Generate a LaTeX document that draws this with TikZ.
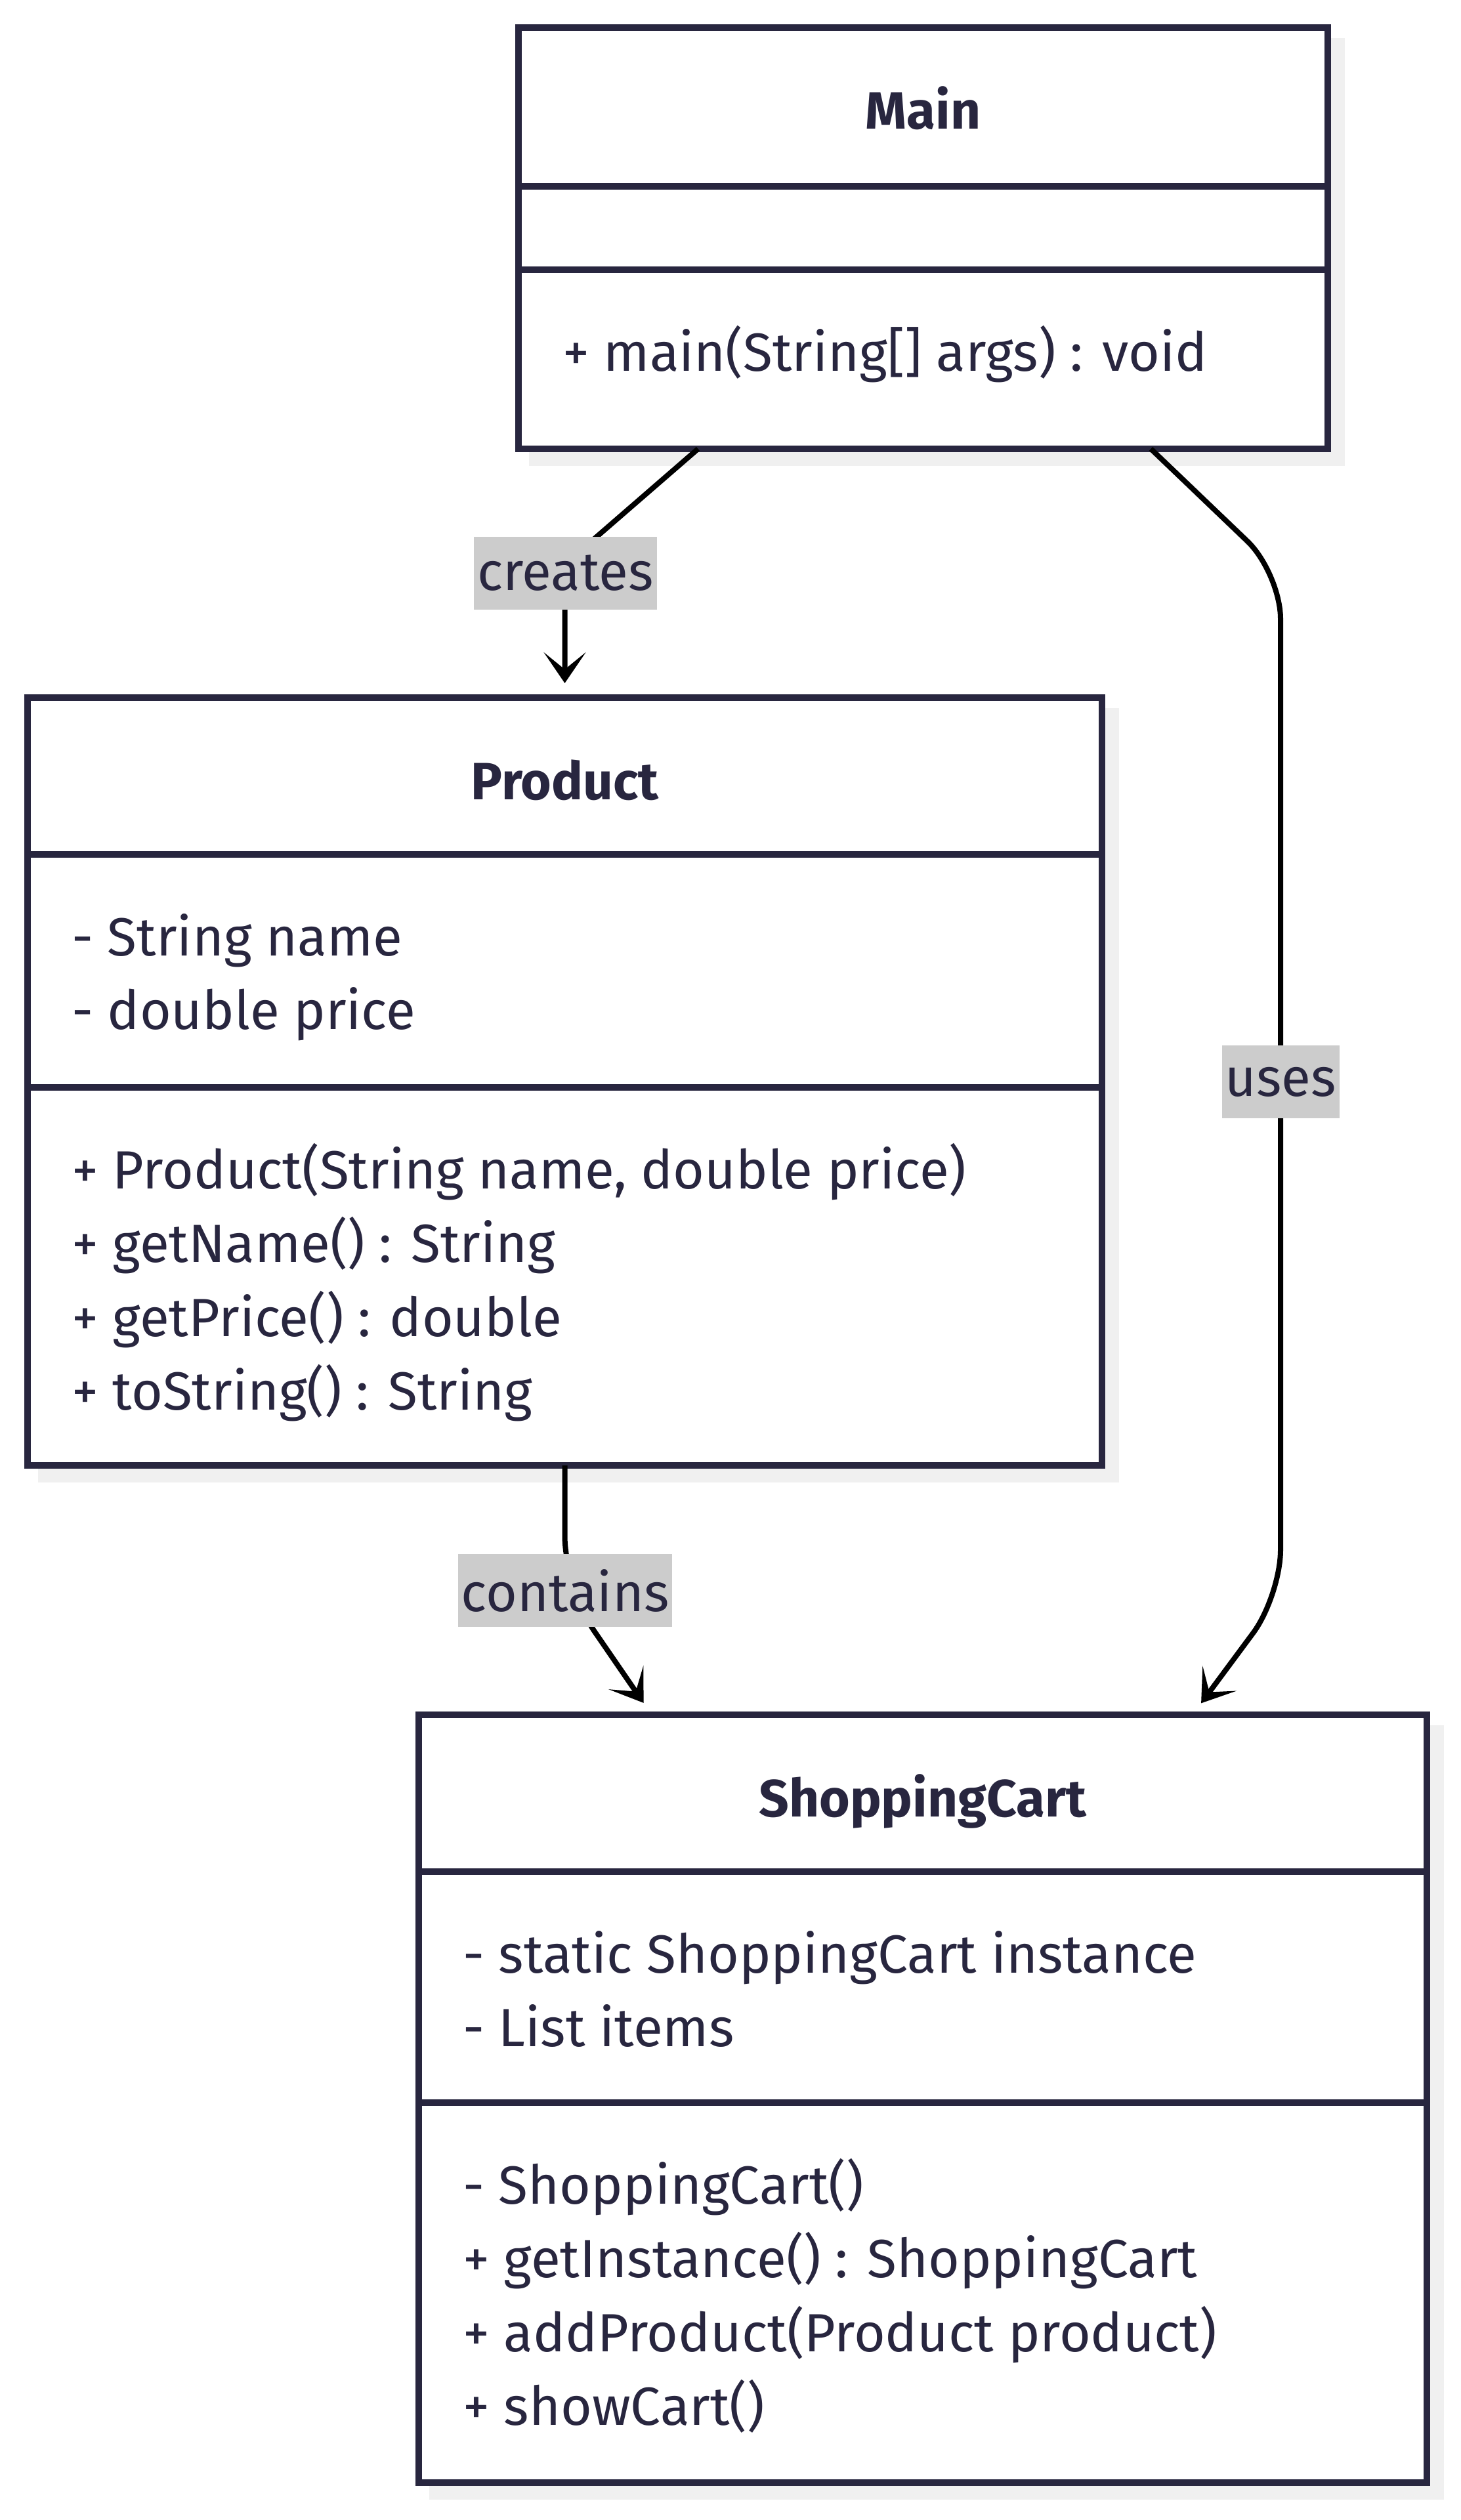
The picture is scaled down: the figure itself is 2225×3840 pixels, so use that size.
\documentclass[tikz,border=0pt]{standalone}
\usepackage{fontspec}
\setmainfont{Fira Sans}
\usetikzlibrary{positioning,arrows.meta,shadows}

\definecolor{umlink}{RGB}{40,38,63}
\definecolor{umlshade}{RGB}{240,240,240}
\definecolor{umltag}{RGB}{204,204,204}

\newcommand{\umlfont}{\fontsize{82}{112.5}\selectfont}
\newcommand{\umltitlefont}{\fontsize{80}{112.5}\selectfont\bfseries}

\tikzset{
  classbox/.style={draw=umlink,line width=10pt,fill=white,inner sep=0pt,outer sep=0pt,
    drop shadow={shadow xshift=21pt,shadow yshift=-21pt,fill=umlshade,draw=umlshade,line width=10pt,opacity=1}},
  divider/.style={draw=umlink,line width=10pt},
  classname/.style={anchor=base,inner sep=0pt,text=umlink,font=\umltitlefont},
  members/.style={anchor=north west,inner sep=0pt,align=left,text=umlink,font=\umlfont},
  rel/.style={draw=black,line width=8pt,-{Stealth[length=47pt,width=64pt,inset=26pt]}},
  reltag/.style={fill=umltag,text=umlink,font=\umlfont,inner xsep=5pt,inner ysep=0pt,minimum height=111pt},
}

\begin{document}
\begin{tikzpicture}[x=1pt,y=-1pt]
	\useasboundingbox (0,0) rectangle (2225,3840);
	
	% Main
	\node[classbox,minimum width=1233pt,minimum height=642pt] (main) at (1406.5,363) {};
	\draw[divider] ([yshift=-242pt]main.north west) -- ([yshift=-242pt]main.north east);
	\draw[divider] ([yshift=-369pt]main.north west) -- ([yshift=-369pt]main.north east);
	\node[classname,shift={(0,155)}] (main-name) at (main.north) {Main};
	\node[members,shift={(67,444.25)}] (main-ops) at (main.north west) {\strut+ main(String[] args) : void};
	
	% Product
	\node[classbox,minimum width=1637pt,minimum height=1170pt] (product) at (860.5,1648) {};
	\draw[divider] ([yshift=-239pt]product.north west) -- ([yshift=-239pt]product.north east);
	\draw[divider] ([yshift=-594pt]product.north west) -- ([yshift=-594pt]product.north east);
	\node[classname,shift={(0,155)}] (product-name) at (product.north) {Product};
	\node[members,shift={(67,314.25)}] (product-attrs) at (product.north west) {\strut- String name\\- double price};
	\node[members,shift={(67,669.25)}] (product-ops) at (product.north west) {\strut+ Product(String name, double price)\\+ getName() : String\\+ getPrice() : double\\+ toString() : String};
	
	% ShoppingCart
	\node[classbox,minimum width=1536pt,minimum height=1170pt] (cart) at (1406,3198) {};
	\draw[divider] ([yshift=-239pt]cart.north west) -- ([yshift=-239pt]cart.north east);
	\draw[divider] ([yshift=-591pt]cart.north west) -- ([yshift=-591pt]cart.north east);
	\node[classname,shift={(0,155)}] (cart-name) at (cart.north) {ShoppingCart};
	\node[members,shift={(67,314.25)}] (cart-attrs) at (cart.north west) {\strut- static ShoppingCart instance\\- List items};
	\node[members,shift={(67,666.25)}] (cart-ops) at (cart.north west) {\strut- ShoppingCart()\\+ getInstance() : ShoppingCart\\+ addProduct(Product product)\\+ showCart()};
	
	% relations
	\coordinate (creates-bend) at (860.5,860);
	\draw[rel,rounded corners=40pt,shorten >=22pt] ([xshift=-343pt]main.south) -- (creates-bend) -- (product.north);
	
	\coordinate (uses-top) at (1951,873);
	\coordinate (uses-bottom) at (1951,2432);
	\draw[rel,rounded corners=70pt,shorten >=22pt] ([xshift=347pt]main.south) -- (uses-top) -- (uses-bottom) -- ([xshift=411pt]cart.north);
	
	\coordinate (contains-bend) at (860.5,2420);
	\draw[rel,rounded corners=80pt,shorten >=22pt] (product.south) -- (contains-bend) -- ([xshift=-413pt]cart.north);
	
	\node[reltag] (creates) at (861.5,873.5) {creates};
	\node[reltag] (uses) at (1951,1648.5) {uses};
	\node[reltag] (contains) at (861,2423.5) {contains};
\end{tikzpicture}
\end{document}
